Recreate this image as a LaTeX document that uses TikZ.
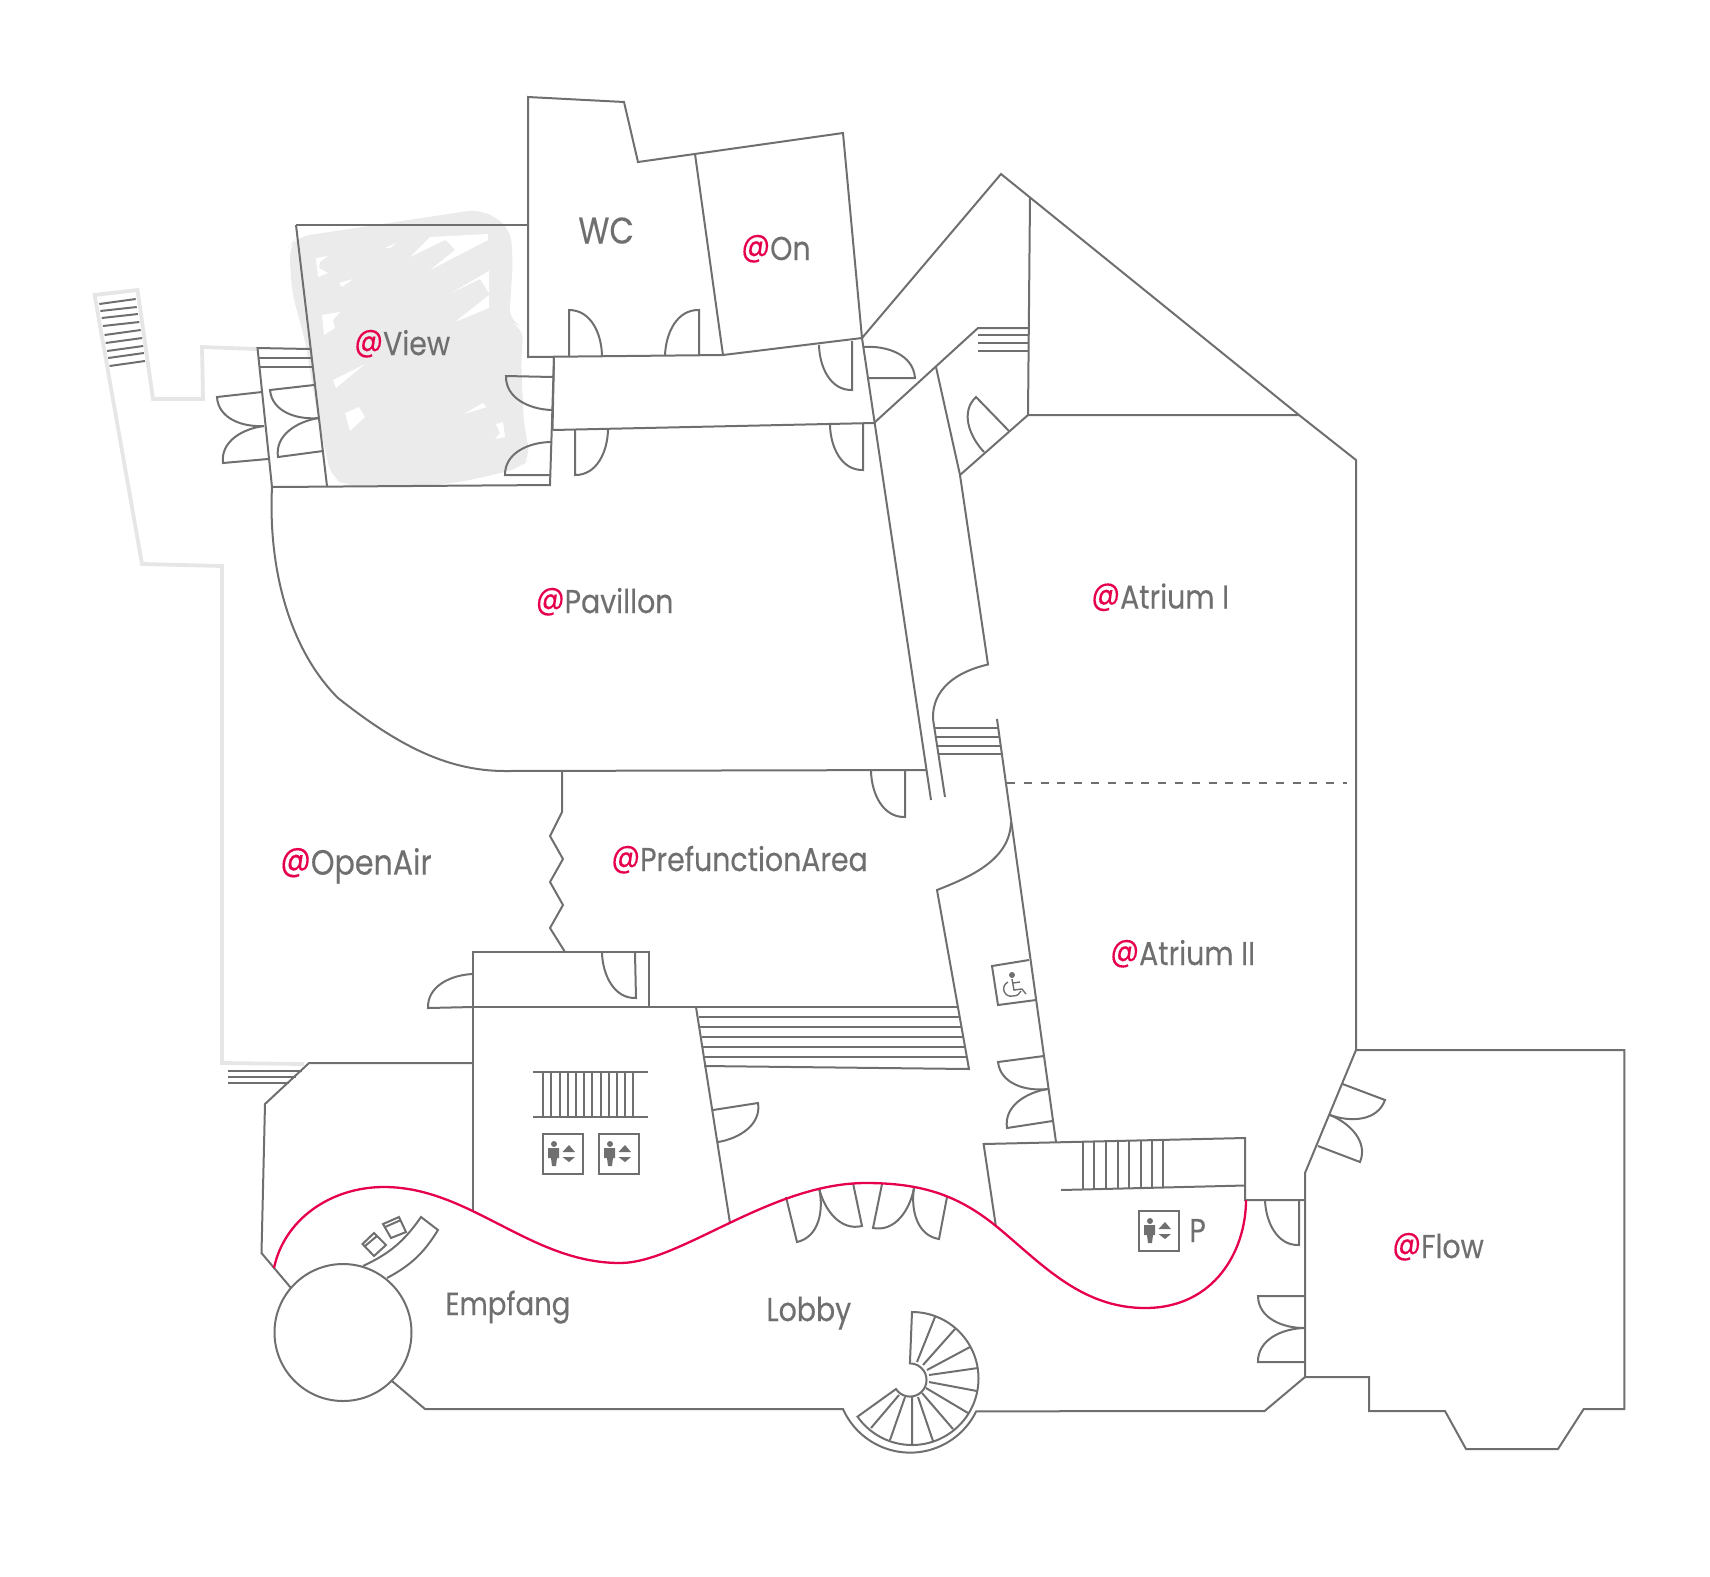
\documentclass[tikz,border=0pt]{standalone}
\usepackage{fontspec}
\setmainfont[FakeStretch=0.86,FakeBold=0.25]{Poppins}
\definecolor{wallgrey}{HTML}{6F6F6F}
\definecolor{outergrey}{HTML}{E6E6E6}
\definecolor{blobgrey}{HTML}{EBEBEB}
\definecolor{atred}{HTML}{E6004C}
\newcommand{\atmark}{\raisebox{0.12em}{\textcolor{atred}{@}}}
\tikzset{
   wall/.style={draw=wallgrey,line width=1pt,line join=miter},
   outerwall/.style={draw=outergrey,line width=1.9pt},
   doorl/.style={relative,out=55,in=145},
   doorr/.style={relative,out=-55,in=-145},
   room/.style={text=wallgrey,font=\fontsize{16.5}{18}\selectfont,anchor=base west,inner sep=0pt},
   liftsign/.pic={
      \draw[wall] (0,0) rectangle (40,40);
      \fill[wallgrey] (11,10) circle[radius=3];
      \fill[wallgrey] (5,14) -- (16,14) -- (16,24) -- (14,24) -- (13,32) -- (9,32) -- (8,24) -- (5,24) -- cycle;
      \fill[wallgrey] (19.5,18) -- (32,18) -- (26,11) -- cycle;
      \fill[wallgrey] (19.5,23) -- (32,23) -- (26,28) -- cycle;
   }
}
\begin{document}
\begin{tikzpicture}[x=0.5pt,y=-0.5pt]
         \useasboundingbox (0,0) rectangle (1710,1576);
         % grey patch on the view room
         \fill[blobgrey,rounded corners=7pt] (292,293) -- (289,247) -- (296,237) -- (481,209) -- (510,227) -- (513,260) -- (509,322) -- (524,327) -- (521,360) -- (524,427) -- (531,457) -- (521,468) -- (471,480) -- (431,486) -- (346,486) -- (331,477) -- (317,413) -- (305,340) -- cycle;
         \fill[white] (316,258) -- (328,256) -- (320,262) -- (319,268) -- (328,273) -- (318,277) -- cycle;
         \fill[white] (385,248) -- (396,243) -- (390,248) -- cycle;
         \fill[white] (410,257) -- (430,237) -- (488,234) -- (488,240) -- (430,270) -- (455,250) -- (449,243) -- (445,240) -- cycle;
         \fill[white] (339,283) -- (353,279) -- (342,287) -- cycle;
         \fill[white] (451,293) -- (489,271) -- (489,293) -- (480,279) -- cycle;
         \fill[white] (455,322) -- (489,295) -- (489,308) -- cycle;
         \fill[white] (322,315) -- (340,312) -- (333,320) -- (335,328) -- (324,335) -- cycle;
         \fill[white] (333,380) -- (365,364) -- (336,388) -- cycle;
         \fill[white] (345,413) -- (359,407) -- (365,417) -- (350,431) -- cycle;
         \fill[white] (464,414) -- (483,403) -- (487,407) -- cycle;
         \fill[white] (496,424) -- (503,422) -- (505,437) -- (495,439) -- (500,433) -- cycle;
         % terrace
         \draw[outerwall] (257,349) -- (202,347) -- (203,399) -- (153,399) -- (137.5,290) -- (94.6,295) -- (142,564) -- (222,566) -- (222,1063) -- (304,1064);
         \draw[wall] (99.3,304) -- (135.7,299) (100.4,311) -- (136.8,307) (101.8,318) -- (137.9,314) (102.9,326) -- (139.3,322) (104.6,335) -- (140.7,330) (105.7,343) -- (142.1,338) (107.1,351) -- (143.2,346) (108.2,358) -- (143.9,353) (109.6,366) -- (145,361);
         % upper rooms
         \draw[wall] (296,225) -- (528,225);
         \draw[wall] (296,225) -- (327,486);
         \draw[wall] (272,487) -- (550,485) -- (554,358);
         \draw[wall] (272,487) -- (257.5,348) -- (310,349);
         \draw[wall] (259,358) -- (311,358) (259,367) -- (312,367);
         \draw[wall] (528,97) -- (624,102) -- (638,162) -- (843,133) -- (862,338) -- (723,355) -- (528,357) -- cycle;
         \draw[wall] (695,154) -- (723,355);
         \draw[wall] (552.5,430) -- (874,423);
         \draw[wall] (554,357) -- (552.5,430);
         \draw[wall] (862,338) -- (931,800);
         \draw[wall] (862,338) -- (1001,174) -- (1299,415) -- (1356,460) -- (1356,1050) -- (1305,1173) -- (1305,1377);
         \draw[wall] (1030,198) -- (1028,415) -- (1299,415);
         \draw[wall] (874,423) -- (978,328) -- (1028,328);
         \draw[wall] (978,335) -- (1028,335) (978,343) -- (1028,343) (978,351) -- (1028,351);
         \draw[wall] (936,367) -- (960,475) -- (1028,415);
         \draw[wall] (960,475) -- (988,664.5) .. controls (955,672) and (932,690) .. (933,719) -- (945,797);
         \draw[wall] (934,728) -- (997.5,728) (936,737) -- (1000,737) (937,745.5) -- (1001,745.5) (938,754) -- (1002,754);
         \draw[wall] (997,719) -- (1056,1142);
         \draw[wall] (1011,822) .. controls (1010,860) and (970,877) .. (937,890) -- (969,1069) -- (704,1066);
         % pavillon and prefunction
         \draw[wall] (272,487) .. controls (268,570) and (290,650) .. (338,698) .. controls (395,743) and (445,771) .. (505,771) -- (926,770);
         \draw[wall] (562,771) -- (562,812) -- (550,836) -- (563,859) -- (550,882) -- (563,905) -- (550,928) -- (565,952);
         \draw[wall] (473,952) rectangle (649,1007);
         \draw[wall] (473,1007) -- (957,1007);
         \draw[wall] (473,1007) -- (473,1212);
         \draw[wall] (696,1007) -- (730,1223);
         \draw[wall] (699,1017) -- (959,1017) (700,1027) -- (961,1027) (701.5,1037) -- (962.5,1037) (703,1047) -- (964,1047) (704,1057) -- (966,1057);
         % lobby
         \draw[wall] (473,1063) -- (309,1063) -- (265,1104) -- (261.5,1253) -- (291,1288);
         \draw[wall] (228,1071) -- (302,1071) (228,1077) -- (296,1077) (228,1083) -- (289,1083);
         \draw[wall] (343,1332.5) circle[radius=68.5];
         \draw[wall] (392,1381) -- (425,1409) -- (843,1409) arc[start angle=204,end angle=334,radius=36.75pt] -- (1264.6,1411) -- (1305,1377);
         \draw[wall] (1356,1050) -- (1624.4,1050) -- (1624.4,1409) -- (1583.7,1409) -- (1558,1449) -- (1466,1449) -- (1445,1411) -- (1369,1411) -- (1369,1377) -- (1305,1377);
         \draw[wall] (363,1266) to[bend right=15] (421,1217) -- (438,1230) to[bend left=15] (387,1278);
         \draw[wall] (362.5,1244) -- (374,1233) -- (386,1245) -- (374,1256) -- cycle;
         \draw[wall] (365,1246) -- (377,1236);
         \draw[wall] (383,1224) -- (399,1217) -- (406,1232) -- (391,1238) -- cycle;
         \draw[wall] (385,1227) -- (401,1220);
         % stairs by the lifts
         \draw[wall] (533,1072) -- (647.5,1072) (533,1117) -- (647.5,1117);
         \draw[wall] (543,1072) -- (543,1117) (551,1072) -- (551,1117) (560,1072) -- (560,1117) (568,1072) -- (568,1117) (576,1072) -- (576,1117) (584,1072) -- (584,1117) (592,1072) -- (592,1117) (601,1072) -- (601,1117) (609,1072) -- (609,1117) (617,1072) -- (617,1117) (625,1072) -- (625,1117) (633,1072) -- (633,1117);
         \pic at (543,1134) {liftsign};
         \pic at (599,1134) {liftsign};
         \pic at (1139,1211) {liftsign};
         % room with the P
         \draw[wall] (996,1227) -- (983.6,1144) -- (1245,1138) -- (1245,1200) -- (1305,1200);
         \draw[wall] (1061,1190) -- (1245,1185.5);
         \draw[wall] (1083,1141.7) -- (1083,1189.5) (1094,1141.5) -- (1094,1189.2) (1106,1141.2) -- (1106,1189) (1118,1141) -- (1118,1188.7) (1129,1140.7) -- (1129,1188.3) (1141,1140.4) -- (1141,1188) (1152,1140.2) -- (1152,1187.8) (1163,1139.9) -- (1163,1187.5);
         % wheelchair sign
         \draw[wall] (1029,960) -- (992,966) -- (998,1005) -- (1036,1000);
         \fill[wallgrey] (1012,975) circle[radius=3];
         \draw[wall,line width=0.7pt] (1012,979) -- (1014,990) -- (1022,989) -- (1026,994);
         \draw[wall,line width=0.7pt] (1013,983) -- (1020,982);
         \draw[wall,line width=0.7pt] (1008,982) .. controls (1000,986) and (1004,998) .. (1013,996) .. controls (1017,996) and (1020,994) .. (1021,991);
         % spiral stair
         \draw[wall] (912,1312) arc[start angle=90,end angle=-145,radius=33.25pt] -- (896,1389) arc[start angle=213,end angle=450,radius=8.3pt] -- cycle;
         \draw[wall] (935,1317) -- (917,1362) (955,1329) -- (923,1365) (970,1347) -- (927,1370) (978,1368) -- (929,1375) (977,1391) -- (929,1382) (968,1413) -- (926,1388) (953,1429) -- (922,1393) (933,1441) -- (918,1397) (912,1444) -- (912,1397) (890,1440) -- (905,1397) (871,1428) -- (899,1395);
         % doors
         \draw[wall] (569,357) -- (569,310) to[doorl] (602,357);
         \draw[wall] (699,355) -- (699,310) to[doorr] (665,356);
         \draw[wall] (852,341) -- (852,390) to[doorl] (819,345);
         \draw[wall] (868,378) -- (915,378) to[doorr] (863,347);
         \draw[wall] (575,429) -- (575,475) to[doorr] (608,429);
         \draw[wall] (863,424) -- (863,470) to[doorl] (830,425);
         \draw[wall] (553,377) -- (506,376) to[doorr] (552,410);
         \draw[wall] (550,475) -- (505,475) to[doorl] (551,442);
         \draw[wall] (262,392) -- (217,397) to[doorr] (264,426);
         \draw[wall] (268,459) -- (223,463) to[doorl] (264,426);
         \draw[wall] (314,385) -- (270,390) to[doorr] (319,418);
         \draw[wall] (323,451) -- (278,457) to[doorl] (319,418);
         \draw[wall] (1009,431) -- (976,397) to[doorr] (984,452);
         \draw[wall] (905,771) -- (905,817) to[doorl] (871,771);
         \draw[wall] (635,953) -- (636,998) to[doorl] (602,953);
         \draw[wall] (473,1007) -- (428,1008) to[doorl] (473,974);
         \draw[wall] (713,1110) -- (758,1103) to[doorl] (718,1142);
         \draw[wall] (1044,1056) -- (998,1062) to[doorr] (1048,1089);
         \draw[wall] (1052.5,1121) -- (1007,1128) to[doorl] (1048,1089);
         \draw[wall] (786,1197) -- (797,1242) to[doorr] (819,1188);
         \draw[wall] (853,1183) -- (862,1226) to[doorl] (819,1188);
         \draw[wall] (882,1184) -- (873,1228) to[doorr] (914,1188);
         \draw[wall] (947,1197) -- (939,1239) to[doorl] (914,1188);
         \draw[wall] (1342.5,1084) -- (1385,1100) to[doorl] (1330,1115);
         \draw[wall] (1318,1146) -- (1360,1162) to[doorr] (1330,1115);
         \draw[wall] (1305,1296) -- (1258,1296) to[doorr] (1305,1328);
         \draw[wall] (1305,1362) -- (1258,1362) to[doorl] (1305,1328);
         \draw[wall] (1299,1200) -- (1299,1245) to[doorl] (1265,1200);
         % atrium divider and the red line
         \draw[draw=wallgrey,line width=0.55pt,dash pattern=on 4pt off 4.4pt] (1007,783) -- (1347,783);
         \draw[atred,line width=1.15pt] (274,1268) .. controls (284,1220) and (330,1187) .. (384,1187) .. controls (470,1187) and (530,1263) .. (620,1263) .. controls (680,1263) and (770,1183) .. (866,1183) .. controls (925,1183) and (960,1197) .. (996,1226) .. controls (1040,1262) and (1080,1308) .. (1145,1308) .. controls (1215,1308) and (1246,1250) .. (1246,1200);
         % room names
         \node[room] (view) at (354,355) {\atmark View};
         \node[room] (wc) at (578,243.5) {\fontsize{18.5}{20}\selectfont WC};
         \node[room] (on) at (741,260) {\atmark On};
         \node[room] (pavillon) at (535.5,613) {\atmark Pavillon};
         \node[room] (atriumone) at (1091,608.5) {\atmark Atrium I};
         \node[room] (openair) at (280,874.6) {\fontsize{17.5}{19}\selectfont\atmark OpenAir};
         \node[room] (prefunction) at (611,871) {\atmark PrefunctionArea};
         \node[room] (atriumtwo) at (1110,965) {\atmark Atrium II};
         \node[room] (empfang) at (445,1315) {\fontsize{16}{18}\selectfont Empfang};
         \node[room] (lobby) at (766,1321) {Lobby};
         \node[room] (park) at (1189,1242) {P};
         \node[room] (flow) at (1392,1258) {\atmark Flow};
      \end{tikzpicture}
\end{document}
